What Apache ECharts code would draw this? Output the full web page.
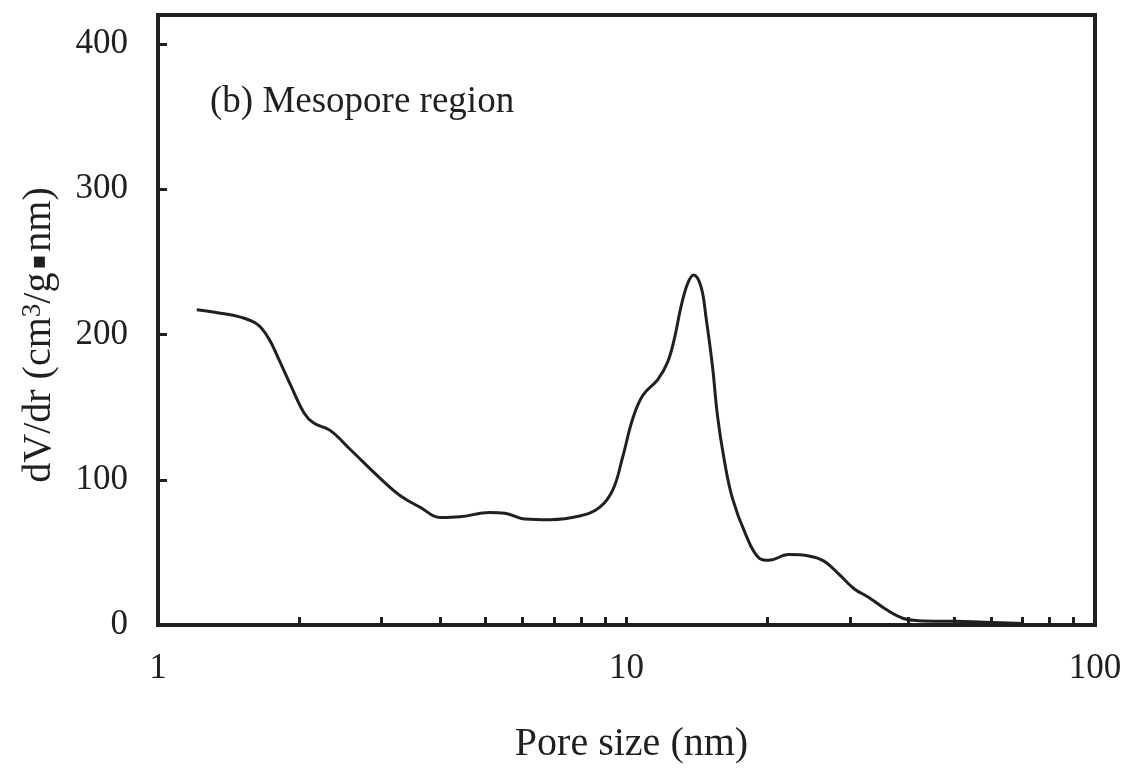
<!DOCTYPE html>
<html>
<head>
<meta charset="utf-8">
<script src="https://cdn.jsdelivr.net/npm/echarts@6/dist/echarts.min.js"></script>
<style>
  html, body { margin: 0; padding: 0; background: #fff; }
  #chart { width: 1127px; height: 769px; }
</style>
</head>
<body>
<div id="chart"></div>
<script>
// Pore size distribution, mesopore region
const poreSize = [1.21, 1.34, 1.50, 1.63, 1.725, 1.81, 1.92, 2.05, 2.15, 2.33, 2.57, 2.98,
  3.29, 3.63, 4.0, 4.41, 5.11, 5.5, 6.07, 6.86, 7.94, 8.76, 9.35, 9.82, 10.31, 10.83,
  11.66, 12.24, 12.65, 13.07, 13.50, 13.91, 14.42, 14.78, 15.26, 15.64, 16.16, 16.84,
  17.98, 19.19, 20.1, 22.2, 24.5, 26.4, 28.4, 30.6, 32.9, 35.7, 39.0, 42, 50, 60, 70];
const dvdr = [217, 215, 212, 207, 197, 183, 165, 146, 139, 134, 121, 101,
  89, 81, 74, 74.5, 77.5, 77, 73, 72.5, 75, 81, 93, 116, 142, 158,
  169, 181, 197, 219, 235, 241, 233, 212, 178, 144, 114, 87,
  62, 46, 44.5, 48.5, 47.5, 44, 35, 25, 19, 11, 4.5, 3, 2.5, 1.8, 1];

const xTickValues = [1, 2, 3, 4, 5, 6, 7, 8, 9, 10, 20, 30, 40, 50, 60, 70, 80, 90, 100];
const xLabelValues = [1, 10, 100];
const yTicks = [0, 100, 200, 300, 400];

const ink = '#231f20';
const font = 'Liberation Serif';

const chart = echarts.init(document.getElementById('chart'));
chart.setOption({
  backgroundColor: '#fff',
  animation: false,
  title: {
    text: '(b) Mesopore region',
    left: 205,
    top: 79,
    textStyle: { fontFamily: font, fontSize: 37, fontWeight: 'normal', color: ink }
  },
  grid: {
    left: 158, right: 32, top: 15, bottom: 142,
    show: true, borderColor: ink, borderWidth: 4, backgroundColor: 'transparent'
  },
  xAxis: {
    type: 'log',
    logBase: 10,
    min: 1,
    max: 100,
    name: 'Pore size (nm)',
    nameLocation: 'middle',
    nameGap: 99,
    nameTextStyle: { fontFamily: font, fontSize: 40, color: ink, padding: [0, 0, 0, 10] },
    axisLine: { lineStyle: { color: ink, width: 4 } },
    axisTick: { inside: true, length: 8, lineStyle: { color: ink, width: 3 }, customValues: xTickValues },
    minorTick: { show: false },
    axisLabel: { fontFamily: font, fontSize: 35, color: ink, margin: 26, customValues: xLabelValues },
    splitLine: { show: false }
  },
  yAxis: {
    type: 'value',
    min: 0,
    max: 420,
    interval: 100,
    name: 'dV/dr (cm{sup|3}/g{dot|▪}nm)',
    nameLocation: 'middle',
    nameGap: 98,
    nameTextStyle: {
      fontFamily: font, fontSize: 40, color: ink, padding: [0, 30, 0, 0],
      rich: {
        sup: { fontFamily: font, fontSize: 27, color: ink, verticalAlign: 'top', padding: [0, 0, 14, 0] },
        dot: { fontFamily: 'DejaVu Sans', fontSize: 22, color: ink, padding: [0, 3, 0, 3] }
      }
    },
    axisLine: { lineStyle: { color: ink, width: 4 } },
    axisTick: { inside: true, length: 9, lineStyle: { color: ink, width: 3 }, customValues: yTicks },
    axisLabel: { fontFamily: font, fontSize: 35, color: ink, margin: 30, customValues: yTicks },
    splitLine: { show: false }
  },
  series: [{
    type: 'line',
    data: poreSize.map((x, i) => [x, dvdr[i]]),
    smooth: 0.4,
    showSymbol: false,
    lineStyle: { color: ink, width: 3 }
  }]
});
</script>
</body>
</html>
